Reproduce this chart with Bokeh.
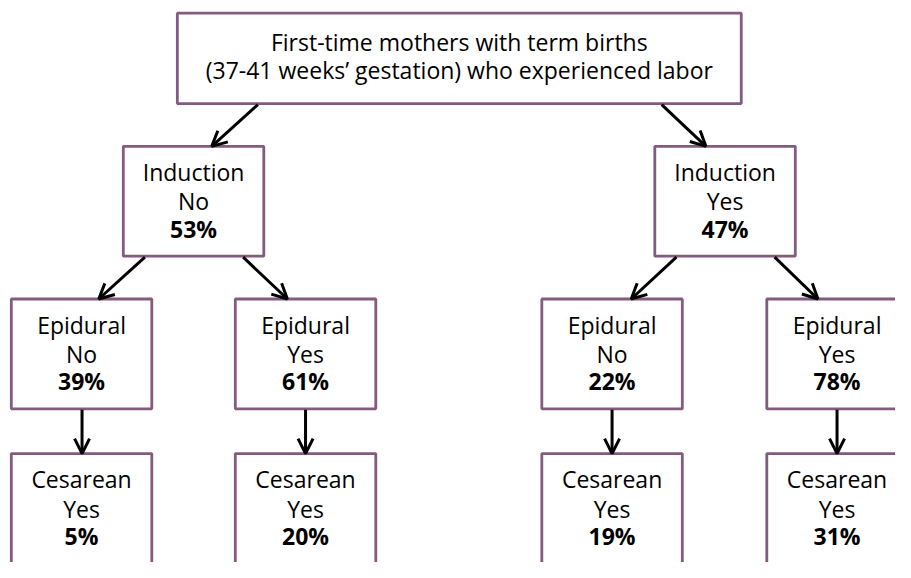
from bokeh.plotting import figure
from bokeh.models import Range1d, ColumnDataSource, Arrow, OpenHead
from bokeh.core.properties import value
from bokeh.embed import file_html
from bokeh.resources import INLINE

# ---- data ----
root_lines = ["First-time mothers with term births",
              "(37-41 weeks\u2019 gestation) who experienced labor"]
node_names = ["Induction", "Induction",
              "Epidural", "Epidural", "Epidural", "Epidural",
              "Cesarean", "Cesarean", "Cesarean", "Cesarean"]
node_answers = ["No", "Yes", "No", "Yes", "No", "Yes", "Yes", "Yes", "Yes", "Yes"]
node_pcts = [53, 47, 39, 61, 22, 78, 5, 20, 19, 31]

# ---- layout (reference-image pixel coordinates) ----
BOX_W = 143
BOX_H = 113
centers_x = [196.5, 737.5, 82.5, 310.5, 622.5, 851.5, 82.5, 310.5, 622.5, 851.5]
tops_y = [150, 150, 307, 307, 307, 307, 466, 466, 466, 466]
ROOT = dict(left=180, right=754, top=13, bottom=106)

FONT = "Open Sans"
FS = "23px"
PURPLE = "#835B7E"
SHIFT = 9.5  # compensation for renderer baseline placement

p = figure(width=895, height=562, output_backend="svg", toolbar_location=None,
           x_range=Range1d(0, 911), y_range=Range1d(578, 0),
           min_border=0)
p.axis.visible = False
p.grid.visible = False
p.outline_line_color = None
p.background_fill_color = "white"

# root box
p.quad(left=[ROOT["left"]], right=[ROOT["right"]], top=[ROOT["top"]], bottom=[ROOT["bottom"]],
       fill_color="white", line_color=PURPLE, line_width=2.8)
rcx = (ROOT["left"] + ROOT["right"]) / 2
p.text(x=[rcx, rcx], y=[52 - SHIFT, 81 - SHIFT], text=root_lines, text_align="center",
       text_baseline="alphabetic", text_font=value(FONT), text_font_size=FS,
       text_color="#000000")

# node boxes
src = ColumnDataSource(dict(
    left=[c - BOX_W / 2 for c in centers_x],
    right=[c + BOX_W / 2 for c in centers_x],
    top=tops_y,
    bottom=[t + BOX_H for t in tops_y],
    x=centers_x,
    y1=[t + 36 - SHIFT for t in tops_y],
    y2=[t + 66 - SHIFT for t in tops_y],
    y3=[t + 94 - SHIFT for t in tops_y],
    name=node_names,
    ans=node_answers,
    pct=[f"{v}%" for v in node_pcts],
))
p.quad(left="left", right="right", top="top", bottom="bottom", source=src,
       fill_color="white", line_color=PURPLE, line_width=2.8)
for ycol, tcol, style in [("y1", "name", "normal"), ("y2", "ans", "normal"), ("y3", "pct", "bold")]:
    p.text(x="x", y=ycol, text=tcol, source=src, text_align="center",
           text_baseline="alphabetic", text_font=value(FONT), text_font_size=FS,
           text_font_style=style, text_color="#000000")

# arrows
arrows = [
    (262, 107, 215, 150), (673, 107, 718, 150),
    (147, 264, 100, 307), (247, 264, 292, 307),
    (688, 264, 642, 307), (788, 264, 832, 307),
    (83, 421, 83, 466), (310.5, 421, 310.5, 466),
    (622.5, 421, 622.5, 466), (851.5, 421, 851.5, 466),
]
for x0, y0, x1, y1 in arrows:
    p.add_layout(Arrow(x_start=x0, y_start=y0, x_end=x1, y_end=y1,
                       line_width=3, line_color="black",
                       end=OpenHead(size=15, line_width=3, line_color="black")))

open("out.html", "w").write(file_html(p, INLINE))
